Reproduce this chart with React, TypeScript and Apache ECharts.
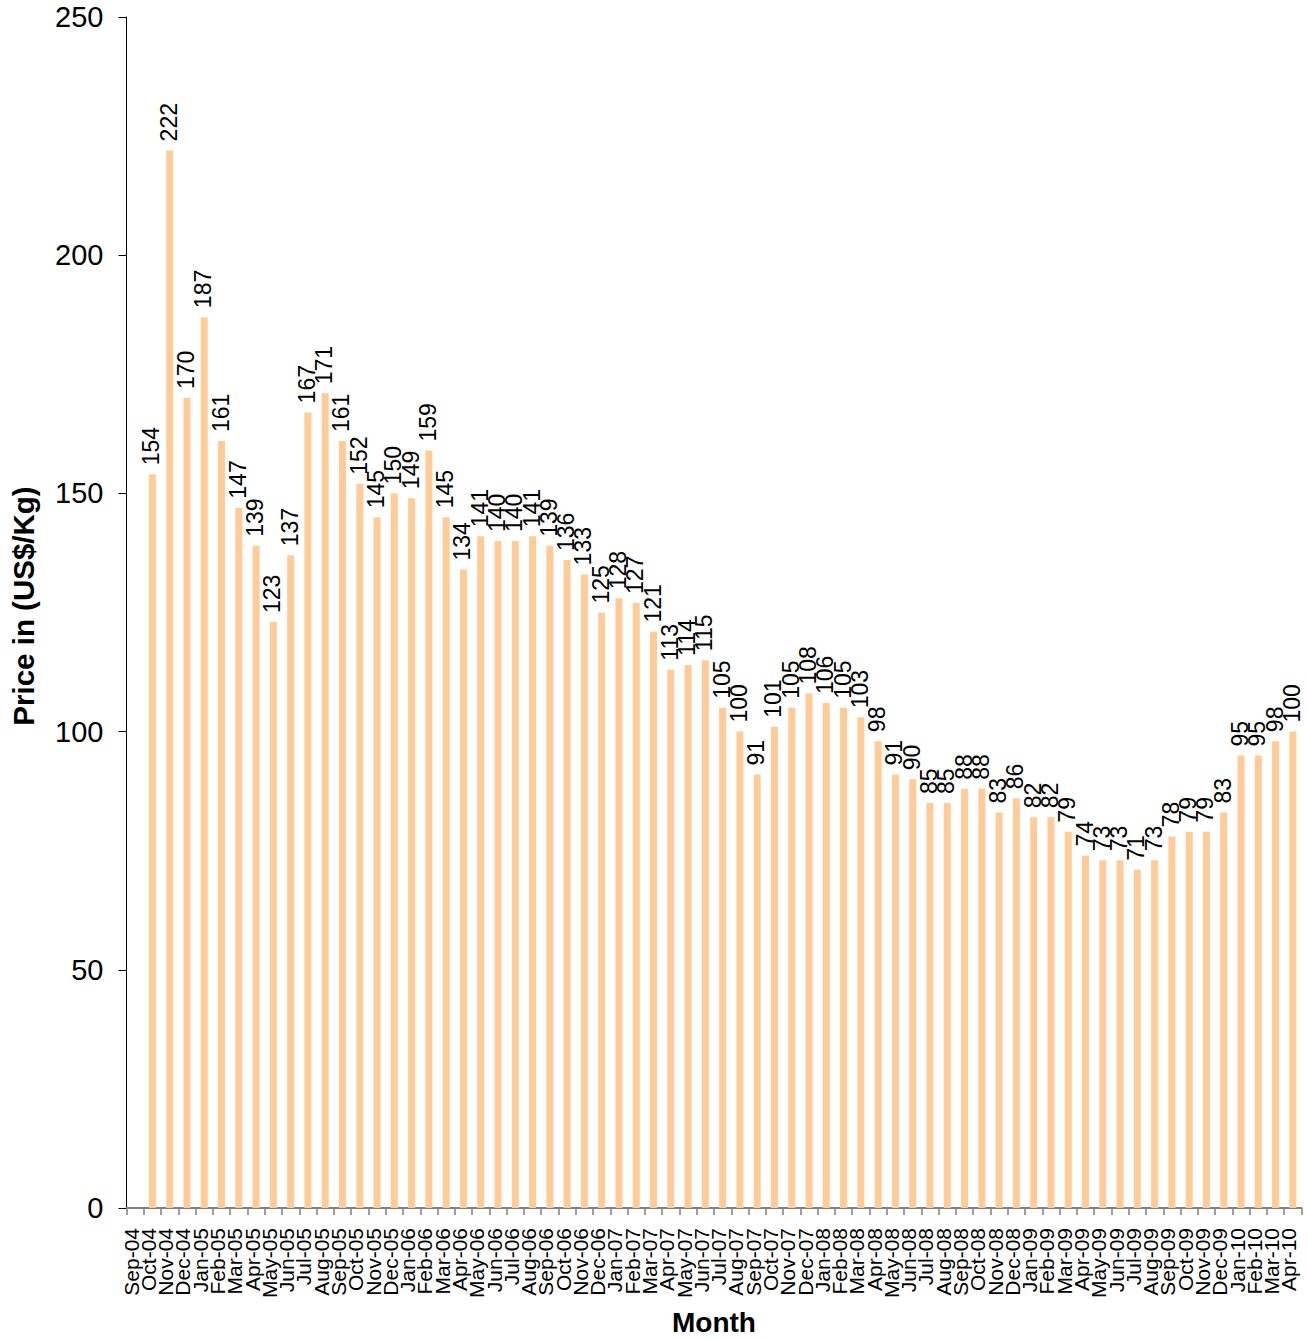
import React, { useEffect, useRef } from "react";
import * as echarts from "echarts";

const months = [
  "Sep-04", "Oct-04", "Nov-04", "Dec-04",
  "Jan-05", "Feb-05", "Mar-05", "Apr-05", "May-05", "Jun-05", "Jul-05", "Aug-05", "Sep-05", "Oct-05", "Nov-05", "Dec-05",
  "Jan-06", "Feb-06", "Mar-06", "Apr-06", "May-06", "Jun-06", "Jul-06", "Aug-06", "Sep-06", "Oct-06", "Nov-06", "Dec-06",
  "Jan-07", "Feb-07", "Mar-07", "Apr-07", "May-07", "Jun-07", "Jul-07", "Aug-07", "Sep-07", "Oct-07", "Nov-07", "Dec-07",
  "Jan-08", "Feb-08", "Mar-08", "Apr-08", "May-08", "Jun-08", "Jul-08", "Aug-08", "Sep-08", "Oct-08", "Nov-08", "Dec-08",
  "Jan-09", "Feb-09", "Mar-09", "Apr-09", "May-09", "Jun-09", "Jul-09", "Aug-09", "Sep-09", "Oct-09", "Nov-09", "Dec-09",
  "Jan-10", "Feb-10", "Mar-10", "Apr-10",
];

const prices: (number | null)[] = [
  null, 154, 222, 170,
  187, 161, 147, 139, 123, 137, 167, 171, 161, 152, 145, 150,
  149, 159, 145, 134, 141, 140, 140, 141, 139, 136, 133, 125,
  128, 127, 121, 113, 114, 115, 105, 100, 91, 101, 105, 108,
  106, 105, 103, 98, 91, 90, 85, 85, 88, 88, 83, 86,
  82, 82, 79, 74, 73, 73, 71, 73, 78, 79, 79, 83,
  95, 95, 98, 100,
];

const yMin = 0;
const yMax = 250;
const yStep = 50;

const yTitle = "Price in (US$/Kg)";
const xTitle = "Month";

const FONT = "'Liberation Sans', Arial, Helvetica, sans-serif";

export default function App() {
  const ref = useRef<HTMLDivElement>(null);
  useEffect(() => {
    if (!ref.current) return;
    const chart = echarts.init(ref.current, null, { renderer: "svg" });
    chart.setOption({
      animation: false,
      backgroundColor: "#ffffff",
      grid: {
        left: 126.5,
        right: 6.5,
        top: 17,
        bottom: 133,
        containLabel: false,
        outerBoundsMode: "none",
      },
      graphic: [
        {
          type: "text",
          x: 23,
          y: 606,
          rotation: Math.PI / 2,
          style: {
            text: yTitle,
            fontFamily: FONT,
            fontSize: 29.5,
            fontWeight: "bold",
            fill: "#000",
            align: "center",
            verticalAlign: "middle",
          },
        },
      ],
      xAxis: {
        type: "category",
        data: months,
        boundaryGap: true,
        name: xTitle,
        nameLocation: "middle",
        nameGap: 100,
        nameTextStyle: { fontFamily: FONT, fontSize: 28, fontWeight: "bold", color: "#000", verticalAlign: "top" },
        axisLine: { show: true, lineStyle: { color: "#808080", width: 2 } },
        axisTick: { show: true, length: 7, alignWithLabel: false, interval: 0, lineStyle: { color: "#808080", width: 1.5 } },
        axisLabel: {
          interval: 0,
          rotate: 90,
          margin: 20,
          fontFamily: FONT,
          fontSize: 21,
          color: "#000",
          verticalAlign: "bottom",
          lineHeight: 8,
        },
        splitLine: { show: false },
      },
      yAxis: {
        type: "value",
        min: yMin,
        max: yMax,
        interval: yStep,
        axisLine: { show: true, lineStyle: { color: "#000", width: 1 } },
        axisTick: { show: true, length: 8, lineStyle: { color: "#000", width: 1 } },
        axisLabel: { margin: 23, fontFamily: FONT, fontSize: 29, color: "#000" },
        splitLine: { show: false },
      },
      series: [
        {
          type: "bar",
          data: prices,
          barWidth: 7,
          itemStyle: { color: "#FFCC99" },
          label: {
            show: true,
            position: "top",
            rotate: 90,
            align: "left",
            verticalAlign: "bottom",
            lineHeight: 2,
            distance: 9,
            fontFamily: FONT,
            fontSize: 23,
            color: "#000",
            formatter: (p: any) => (p.value == null ? "" : String(p.value)),
          },
        },
      ],
    });
    return () => chart.dispose();
  }, []);
  return (
    <div
      ref={ref}
      style={{ position: "absolute", left: 0, top: 0, width: 1308, height: 1341 }}
    />
  );
}
